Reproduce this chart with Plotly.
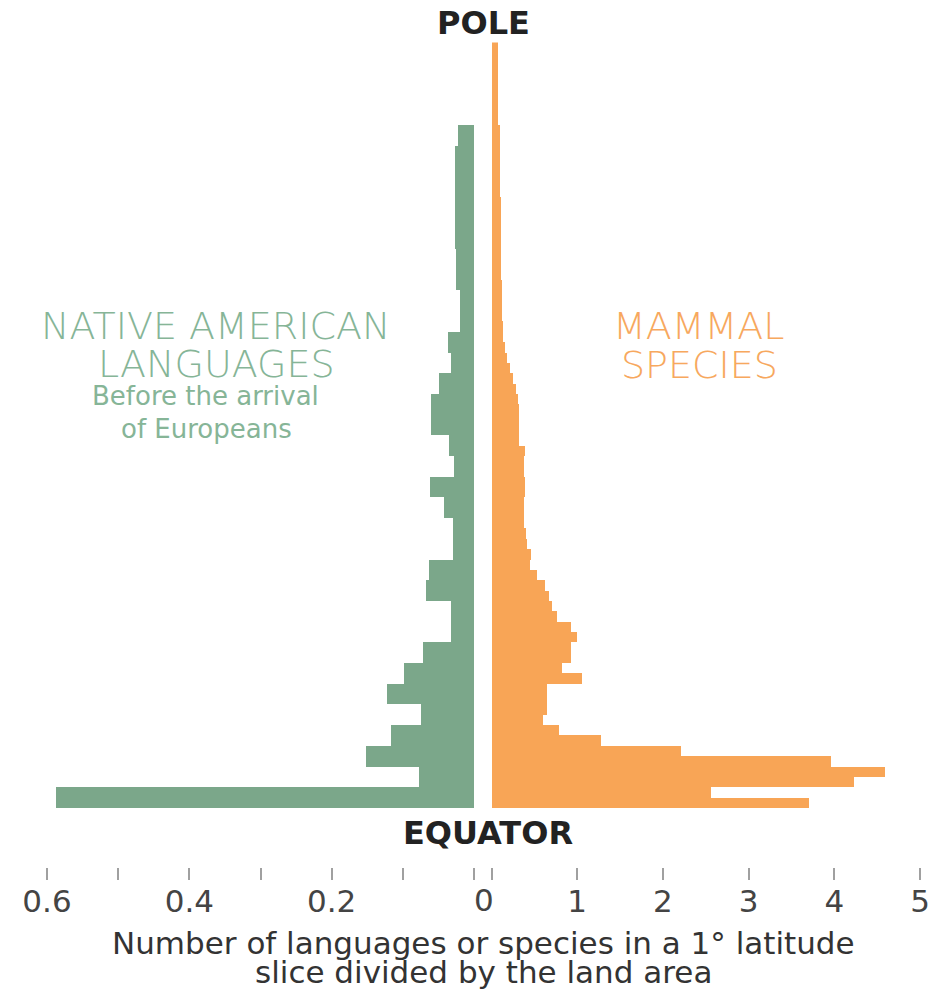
import plotly.graph_objects as go

# ---------------- data ----------------
# Native American languages: 2-degree latitude slices from the equator upward
lang_lat_start = list(range(0, 66, 2))
lang_values = [0.588, 0.077, 0.152, 0.117, 0.075, 0.122, 0.098, 0.072, 0.032, 0.032,
               0.068, 0.063, 0.030, 0.030, 0.042, 0.062, 0.028, 0.035, 0.061, 0.061,
               0.049, 0.032, 0.037, 0.020, 0.020, 0.026, 0.026, 0.027, 0.027, 0.027,
               0.027, 0.027, 0.022]

# Mammal species: 1-degree latitude slices from the equator upward
mammal_lat_start = list(range(0, 74))
mammal_values = [3.70, 2.55, 4.22, 4.59, 3.95, 2.20, 1.27, 0.78, 0.60, 0.64,
                 0.64, 0.64, 1.05, 0.82, 0.92, 0.92, 0.99, 0.92, 0.76, 0.70,
                 0.66, 0.62, 0.52, 0.44, 0.45, 0.41, 0.40, 0.37, 0.37, 0.37,
                 0.39, 0.39, 0.37, 0.37, 0.39, 0.31, 0.31, 0.31, 0.31, 0.30,
                 0.28, 0.25, 0.21, 0.18, 0.15, 0.13, 0.13, 0.12, 0.12, 0.12,
                 0.12, 0.11, 0.11, 0.11, 0.10, 0.10, 0.10, 0.10, 0.10, 0.09,
                 0.09, 0.09, 0.09, 0.09, 0.09, 0.09, 0.07, 0.07, 0.07, 0.07,
                 0.07, 0.07, 0.07, 0.07]

lang_ticks = [0.6, 0.5, 0.4, 0.3, 0.2, 0.1, 0.0]
lang_ticktext = ["0.6", "", "0.4", "", "0.2", "", ""]
mammal_ticks = [0, 1, 2, 3, 4, 5]
mammal_ticktext = ["", "1", "2", "3", "4", "5"]

# ---------------- styling ----------------
W, H = 932, 990
GREEN = "#7ba78a"
ORANGE = "#f8a556"
GREEN_TXT = "#86b597"
ORANGE_TXT = "#f7a85e"
TICK_COL = "#444444"


def px_x(p):
    return p / W


def px_y(p):
    return 1 - p / H


fig = go.Figure()

fig.add_trace(go.Bar(
    y=[s + 1 for s in lang_lat_start], x=lang_values, width=2,
    orientation="h", marker=dict(color=GREEN, line=dict(width=0)),
    xaxis="x", yaxis="y", showlegend=False, hoverinfo="x+y",
))
fig.add_trace(go.Bar(
    y=[s + 0.5 for s in mammal_lat_start], x=mammal_values, width=1,
    orientation="h", marker=dict(color=ORANGE, line=dict(width=0)),
    xaxis="x2", yaxis="y", showlegend=False, hoverinfo="x+y",
))

tick_font = dict(family="DejaVu Sans", size=31, color=TICK_COL)
axis_pos = px_y(867)

common_axis = dict(anchor="free", position=axis_pos, ticks="outside", ticklen=12,
                   tickwidth=1.5, tickcolor="#a0a0a0", showline=False, showgrid=False,
                   zeroline=False, tickfont=tick_font, fixedrange=True, automargin=False,
                   ticklabelstandoff=-5)

fig.update_layout(
    width=W, height=H,
    margin=dict(l=0, r=0, t=0, b=0),
    paper_bgcolor="white", plot_bgcolor="white",
    barmode="overlay", bargap=0,
    xaxis=dict(domain=[px_x(47), px_x(474)], range=[0.6, 0],
               tickvals=lang_ticks, ticktext=lang_ticktext, **common_axis),
    xaxis2=dict(domain=[px_x(491.5), px_x(920)], range=[0, 5],
                tickvals=mammal_ticks, ticktext=mammal_ticktext, **common_axis),
    yaxis=dict(domain=[px_y(808.3), px_y(42.4)], range=[0, 74],
               visible=False, fixedrange=True),
)

label_font = "DejaVu Sans"
annotations = [
    dict(text="<b>POLE</b>", x=px_x(483), y=px_y(23),
         font=dict(family="DejaVu Sans", size=32, color="#222222")),
    dict(text="<b>EQUATOR</b>", x=px_x(488), y=px_y(833),
         font=dict(family="DejaVu Sans", size=32, color="#222222")),
    dict(text="0", x=px_x(484), y=px_y(900),
         font=tick_font),
    dict(text="Number of languages or species in a 1° latitude", x=px_x(484), y=px_y(943),
         font=dict(family="DejaVu Sans", size=31, color="#333333")),
    dict(text="slice divided by the land area", x=px_x(484), y=px_y(972),
         font=dict(family="DejaVu Sans", size=31, color="#333333")),
    dict(text="NATIVE AMERICAN", x=px_x(215), y=px_y(326),
         font=dict(family=label_font, size=38, color=GREEN_TXT, weight=200)),
    dict(text="LANGUAGES", x=px_x(216), y=px_y(364),
         font=dict(family=label_font, size=38, color=GREEN_TXT, weight=200)),
    dict(text="Before the arrival", x=px_x(205), y=px_y(396),
         font=dict(family=label_font, size=26, color=GREEN_TXT)),
    dict(text="of Europeans", x=px_x(206), y=px_y(429),
         font=dict(family=label_font, size=26, color=GREEN_TXT)),
    dict(text="MAMMAL", x=px_x(699), y=px_y(326),
         font=dict(family=label_font, size=38, color=ORANGE_TXT, weight=200)),
    dict(text="SPECIES", x=px_x(699), y=px_y(365),
         font=dict(family=label_font, size=38, color=ORANGE_TXT, weight=200)),
]
for a in annotations:
    a.update(xref="paper", yref="paper", showarrow=False, xanchor="center", yanchor="middle")
fig.update_layout(annotations=annotations)

fig.write_html("out.html", config={"displayModeBar": False},
               post_script="document.body.style.margin='0px';")
